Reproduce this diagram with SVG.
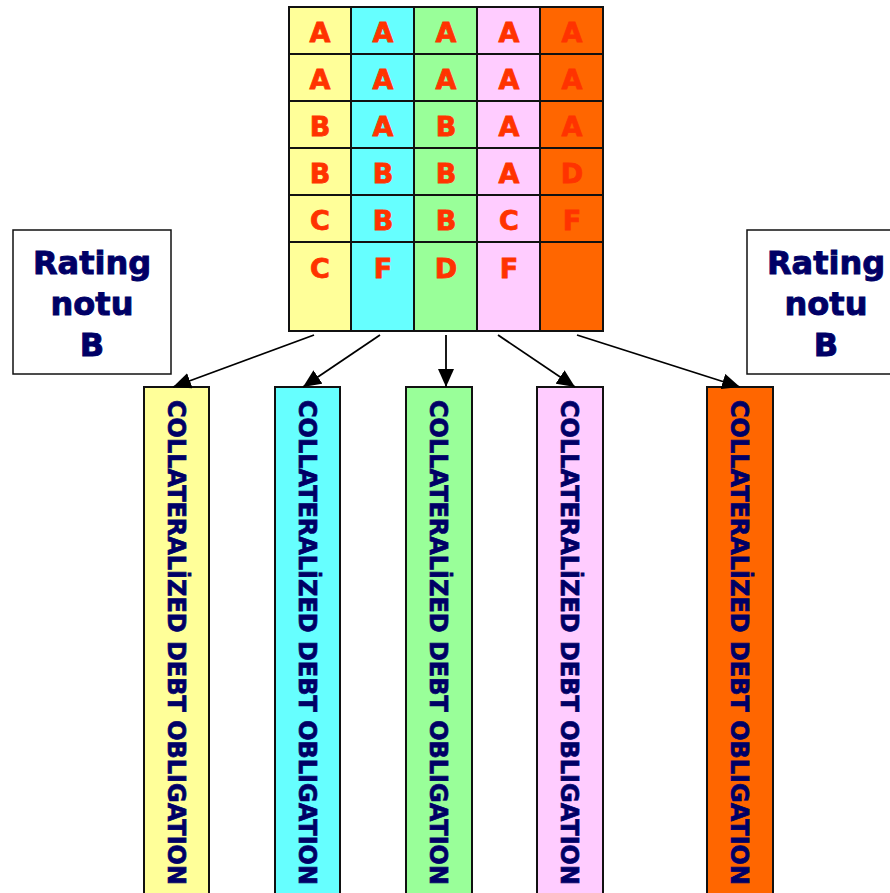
<svg xmlns="http://www.w3.org/2000/svg" width="890" height="893" viewBox="0 0 890 893">
<defs>
<style>
.g{stroke:#111;stroke-width:2}
.l{font-family:"DejaVu Sans","Liberation Sans",sans-serif;font-weight:bold;font-size:27px;fill:#FF3300;stroke:#FF3300;stroke-width:0.8;text-anchor:middle}
.r{font-family:"DejaVu Sans","Liberation Sans",sans-serif;font-weight:bold;font-size:32px;fill:#000066;stroke:#000066;stroke-width:0.9;text-anchor:middle}
.c{font-family:"DejaVu Sans","Liberation Sans",sans-serif;font-weight:bold;font-size:24px;fill:#000066;stroke:#000066;stroke-width:0.7}
.box{stroke:#111;stroke-width:2}
.a{stroke:#000;stroke-width:1.8;fill:none;marker-end:url(#ah)}
</style>
<marker id="ah" viewBox="0 0 18 16" refX="18" refY="8" markerWidth="18" markerHeight="16" markerUnits="userSpaceOnUse" orient="auto">
<path d="M0,0 L18,8 L0,16 Z" fill="#000"/>
</marker>
</defs>
<rect width="890" height="893" fill="#fff"/>
<g id="grid">
<rect x="289" y="7" width="62" height="324" fill="#FFFF99"/>
<rect x="351" y="7" width="63" height="324" fill="#66FFFF"/>
<rect x="414" y="7" width="63" height="324" fill="#99FF99"/>
<rect x="477" y="7" width="63" height="324" fill="#FFCCFF"/>
<rect x="540" y="7" width="63" height="324" fill="#FF6600"/>
<g class="g" fill="none">
<rect x="289" y="7" width="314" height="324"/>
<line x1="351" y1="7" x2="351" y2="331"/>
<line x1="414" y1="7" x2="414" y2="331"/>
<line x1="477" y1="7" x2="477" y2="331"/>
<line x1="540" y1="7" x2="540" y2="331"/>
<line x1="289" y1="54" x2="603" y2="54"/>
<line x1="289" y1="101" x2="603" y2="101"/>
<line x1="289" y1="148" x2="603" y2="148"/>
<line x1="289" y1="195" x2="603" y2="195"/>
<line x1="289" y1="242" x2="603" y2="242"/>
</g>
<g class="l">
<text x="320" y="42">A</text><text x="383" y="42">A</text><text x="446" y="42">A</text><text x="509" y="42">A</text><text x="572" y="42">A</text>
<text x="320" y="89">A</text><text x="383" y="89">A</text><text x="446" y="89">A</text><text x="509" y="89">A</text><text x="572" y="89">A</text>
<text x="320" y="136">B</text><text x="383" y="136">A</text><text x="446" y="136">B</text><text x="509" y="136">A</text><text x="572" y="136">A</text>
<text x="320" y="183">B</text><text x="383" y="183">B</text><text x="446" y="183">B</text><text x="509" y="183">A</text><text x="572" y="183">D</text>
<text x="320" y="230">C</text><text x="383" y="230">B</text><text x="446" y="230">B</text><text x="509" y="230">C</text><text x="572" y="230">F</text>
<text x="320" y="278">C</text><text x="383" y="278">F</text><text x="446" y="278">D</text><text x="509" y="278">F</text>
</g>
</g>
<g id="rating-left">
<rect x="13" y="230" width="158" height="144" fill="#fff" stroke="#111" stroke-width="1.5"/>
<text class="r" x="92" y="274">Rating</text>
<text class="r" x="92" y="315">notu</text>
<text class="r" x="92" y="356">B</text>
</g>
<g id="rating-right">
<rect x="747" y="230" width="150" height="144" fill="#fff" stroke="#111" stroke-width="1.5"/>
<text class="r" x="826" y="274">Rating</text>
<text class="r" x="826" y="315">notu</text>
<text class="r" x="826" y="356">B</text>
</g>
<g id="cdo1">
<rect class="box" x="144" y="387" width="65" height="520" fill="#FFFF99"/>
<text class="c" transform="translate(167.5,400) rotate(90)" textLength="485" lengthAdjust="spacingAndGlyphs">COLLATERALİZED DEBT OBLIGATION</text>
</g>
<g id="cdo2">
<rect class="box" x="275" y="387" width="65" height="520" fill="#66FFFF"/>
<text class="c" transform="translate(298.5,400) rotate(90)" textLength="485" lengthAdjust="spacingAndGlyphs">COLLATERALİZED DEBT OBLIGATION</text>
</g>
<g id="cdo3">
<rect class="box" x="406" y="387" width="66" height="520" fill="#99FF99"/>
<text class="c" transform="translate(430,400) rotate(90)" textLength="485" lengthAdjust="spacingAndGlyphs">COLLATERALİZED DEBT OBLIGATION</text>
</g>
<g id="cdo4">
<rect class="box" x="537" y="387" width="66" height="520" fill="#FFCCFF"/>
<text class="c" transform="translate(561,400) rotate(90)" textLength="485" lengthAdjust="spacingAndGlyphs">COLLATERALİZED DEBT OBLIGATION</text>
</g>
<g id="cdo5">
<rect class="box" x="707" y="387" width="66" height="520" fill="#FF6600"/>
<text class="c" transform="translate(731,400) rotate(90)" textLength="485" lengthAdjust="spacingAndGlyphs">COLLATERALİZED DEBT OBLIGATION</text>
</g>
<g id="connectors">
<line class="a" x1="314" y1="335" x2="173" y2="387"/>
<line class="a" x1="380" y1="335" x2="303" y2="387"/>
<line class="a" x1="446" y1="335" x2="446" y2="387"/>
<line class="a" x1="498" y1="335" x2="575" y2="387"/>
<line class="a" x1="577" y1="335" x2="740" y2="387"/>
</g>
</svg>
